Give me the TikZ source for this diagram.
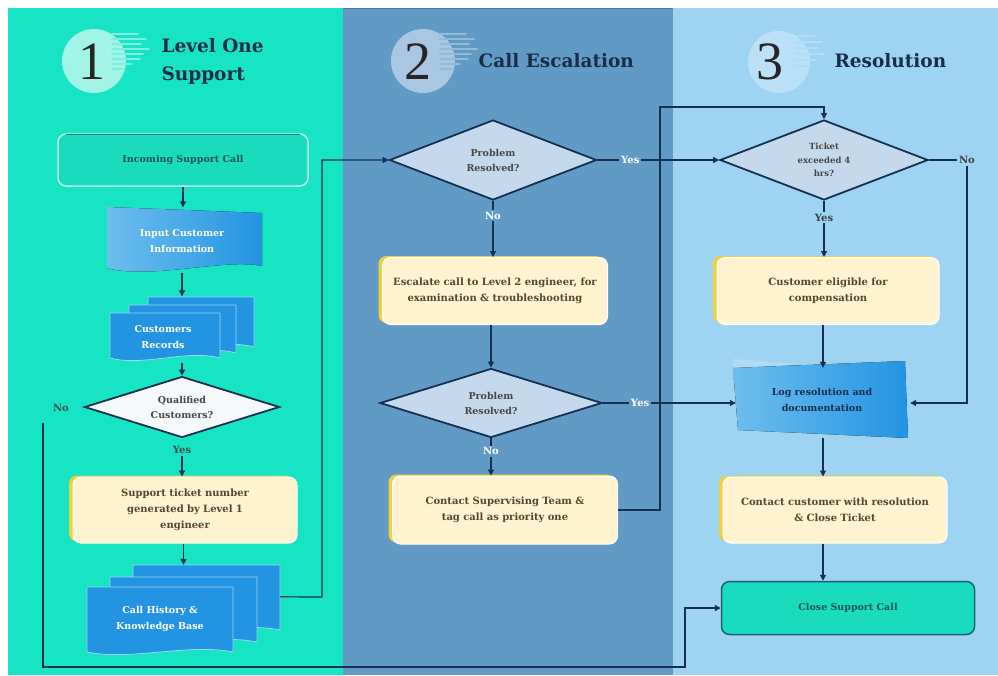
\documentclass[tikz,border=0pt]{standalone}
\usepackage{fontspec}
\setmainfont{DejaVu Serif}
\newfontfamily\numfont{Liberation Serif}
\usetikzlibrary{arrows.meta,shapes.geometric,shadows,calc}
\definecolor{colA}{RGB}{22,228,194}
\definecolor{colB}{RGB}{98,154,198}
\definecolor{colC}{RGB}{158,212,242}
\definecolor{navy}{RGB}{22,48,82}
\definecolor{cream}{RGB}{255,243,208}
\definecolor{gold}{RGB}{240,208,60}
\definecolor{docblue}{RGB}{35,148,225}
\definecolor{doclight}{RGB}{110,190,238}
\definecolor{docedge}{RGB}{150,215,250}
\definecolor{diafill}{RGB}{196,218,236}
\definecolor{boxtext}{RGB}{85,72,50}
\definecolor{termfill}{RGB}{26,220,188}
\definecolor{termtext}{RGB}{20,85,85}
\definecolor{titletext}{RGB}{25,45,70}
\newcommand\wavedoc[4]{%
  \filldraw[fill=docblue, draw=docedge, line width=0.8pt] (#1,#2) -- (#3,#2) -- (#3,#4)
   .. controls ({#3-0.3*(#3-#1)},{#4-9}) and ({#1+0.3*(#3-#1)},{#4+9}) .. (#1,#4) -- cycle;}
\begin{document}
\begin{tikzpicture}[x=1pt,y=-1pt,
  ybox/.style={rectangle, rounded corners=8pt, fill=cream, draw=white, line width=1pt,
    general shadow={fill=gold, shadow xshift=-4pt, shadow yshift=1.5pt},
    align=center, font=\fontsize{10}{16}\selectfont\bfseries, text=boxtext, inner sep=0pt},
  dia/.style={diamond, shape aspect=3.2, draw=navy, line width=1.8pt, fill=diafill, inner sep=0pt,
    align=center, font=\fontsize{9.5}{15}\selectfont\bfseries, text=black!72},
  term/.style={rectangle, rounded corners=8pt, fill=termfill, line width=1.5pt,
    align=center, font=\fontsize{9.5}{14}\selectfont\bfseries, text=termtext, inner sep=0pt},
  ghost/.style={rectangle, inner sep=0pt},
  doctext/.style={align=center, font=\fontsize{9.5}{16}\selectfont\bfseries, text=white},
  arr/.style={draw=navy, line width=1.2pt, -{Triangle[length=6pt,width=6pt]}},
  lab/.style={font=\fontsize{10}{11}\selectfont\bfseries, inner sep=2pt},
  ttl/.style={font=\fontsize{18.5}{28}\selectfont\bfseries, text=titletext, align=left, anchor=west},
  num/.style={font=\numfont\fontsize{54}{54}\selectfont, text=black!85},
  speed/.style={line width=1.6pt, line cap=round}
]
\useasboundingbox (0,0) rectangle (998,675);
\fill[white] (0,0) rectangle (998,675);
\fill[colA] (8,8) rectangle (343,675);
\fill[colB] (343,8) rectangle (673,675);
\fill[colC] (673,8) rectangle (998,675);
\draw[colB!80!black, line width=1pt] (343,8.5) -- (673,8.5);

% headers
\fill[white!60!colA] (94,61) circle (32);
\foreach \yy/\xl in {34/138,39/146,44/141,49/149,54/143,59/140,64/132,69/124}
  \draw[speed, white!45!colA] (112,\yy) -- (\xl,\yy);
\node[num] (n1) at (92,62) {1};
\node[ttl] (t1) at (158,61) {Level One\\Support};

\fill[white!45!colB] (423,61) circle (32);
\foreach \yy/\xl in {34/466,39/474,44/469,49/477,54/471,59/468,64/460,69/452}
  \draw[speed, white!32!colB] (440,\yy) -- (\xl,\yy);
\node[num] (n2) at (418,62) {2};
\node[ttl] (t2) at (475,61) {Call Escalation};

\fill[white!30!colC] (779,62) circle (31);
\foreach \yy/\xl in {36/815,42/822,48/818,54/824,60/816,66/810}
  \draw[speed, white!20!colC] (795,\yy) -- (\xl,\yy);
\node[num] (n3) at (770,62) {3};
\node[ttl] (t3) at (831,61) {Resolution};

% column 1
\node[term, draw=white!70!colA, minimum width=250pt, minimum height=52pt] (inc) at (183,160) {Incoming Support Call};
\draw[navy!60!colA, line width=1pt] (66,134.5) -- (300,134.5);

\fill[left color=doclight, right color=docblue] (107,207) -- (262,213) -- (262,266)
  .. controls (225,258) and (150,280) .. (107,268) -- cycle;
\node[ghost, minimum width=155pt, minimum height=65pt] (inp) at (183,240) {};
\node[doctext] (inpt) at (182,241) {Input Customer\\Information};

\wavedoc{148}{297}{254}{347}
\wavedoc{129}{305}{236}{353}
\wavedoc{110}{313}{220}{358}
\node[ghost, minimum width=144pt, minimum height=63pt] (recs) at (182,328) {};
\node[doctext] (recst) at (163,337) {Customers\\Records};

\node[dia, fill=white!85!diafill, minimum width=195pt, minimum height=61pt] (qual) at (182,407) {Qualified\\Customers?};

\node[ybox, minimum width=224pt, minimum height=66pt, text width=214pt] (ticket) at (185,510) {Support ticket number\\generated by Level 1\\engineer};

\wavedoc{133}{565}{280}{630}
\wavedoc{110}{577}{257}{642}
\wavedoc{87}{587}{233}{652}
\node[ghost, minimum width=193pt, minimum height=92pt] (hist) at (183.5,611) {};
\node[doctext] (histt) at (160,619) {Call History \&\\Knowledge Base};

% column 2
\node[dia, minimum width=207pt, minimum height=80pt] (d1) at (493,160) {Problem\\Resolved?};
\node[ybox, minimum width=225pt, minimum height=67pt, text width=222pt] (esc) at (495,291) {Escalate call to Level 2 engineer, for\\examination \& troubleshooting};
\node[dia, minimum width=222pt, minimum height=69pt] (d2) at (491,403) {Problem\\Resolved?};
\node[ybox, minimum width=225pt, minimum height=68pt, text width=215pt] (sup) at (505,510) {Contact Supervising Team \&\\tag call as priority one};

% column 3
\node[dia, minimum width=208pt, minimum height=80pt, font=\fontsize{8.5}{13.5}\selectfont\bfseries] (d3) at (824,160) {Ticket\\exceeded 4\\hrs?};
\node[ybox, minimum width=222pt, minimum height=67pt, text width=210pt] (cust) at (828,291) {Customer eligible for\\compensation};
\fill[left color=doclight, right color=docblue] (733,368) -- (905,361) -- (908,438) -- (738,430) -- cycle;
\fill[white, opacity=0.18] (733,359) -- (800,364) -- (733,368) -- cycle;
\node[ghost, minimum width=174pt, minimum height=70pt] (log) at (823,403) {};
\node[align=center, font=\fontsize{9.5}{16}\selectfont\bfseries, text=navy] (logt) at (822,400) {Log resolution and\\documentation};
\node[ybox, minimum width=224pt, minimum height=66pt, text width=222pt] (ccust) at (835,510) {Contact customer with resolution\\\& Close Ticket};
\node[term, draw=navy!70!termfill, minimum width=253pt, minimum height=53pt] (close) at (848,608) {Close Support Call};

% connectors column 1
\draw[arr] (inc.south -| inp.north) -- (inp.north);
\draw[arr] (inp.south -| recs.north) -- (recs.north);
\draw[arr] (recs.south -| qual.north) ++(0,3) -- (qual.north);
\node[lab, text=black!70] (no1) at (61,408) {No};
\draw[arr] (43,423) -- (43,667) -- (685,667) -- (685,608) -- (close.west);
\node[lab, text=black!70] (yes1) at (182,450) {Yes};
\draw[arr] (yes1.south) -- (yes1.south |- ticket.north);
\draw[arr] (ticket.south -| hist.north) -- (hist.north);
\draw[arr] ([yshift=-32pt]hist.north east) -- (322,597) -- (322,160) -- (d1.west);

% connectors column 2
\draw[arr] (d1.east) -- (d3.west) node[lab, pos=0.27, fill=colB, text=white] (yes2) {Yes};
\draw[arr] (d1.south) -- (d1.south |- esc.north) node[lab, pos=0.26, fill=colB, text=white] (no2) {No};
\draw[arr] (d2.north |- esc.south) -- (d2.north);
\draw[arr] (d2.east) -- (d2.east -| log.west) node[lab, pos=0.28, fill=colB, text=white] (yes3) {Yes};
\draw[arr] (d2.south) -- (d2.south |- sup.north) node[lab, pos=0.35, fill=colB, text=white] (no3) {No};
\draw[arr] (sup.east) -- (660,510) -- (660,107) -- (d3.north |- 660,107) -- (d3.north);

% connectors column 3
\draw[arr] (d3.east) -- (967,160) -- (967,403) -- (log.east);
\node[lab, fill=colC, text=black!75] (no4) at (967,160) {No};
\draw[arr] (d3.south) -- (d3.south |- cust.north) node[lab, pos=0.3, fill=colC, text=black!75] (yes4) {Yes};
\draw[arr] (log.north |- cust.south) -- (log.north);
\draw[arr] (log.south) -- (log.south |- ccust.north);
\draw[arr] (log.south |- ccust.south) -- (log.south |- close.north);
\end{tikzpicture}
\end{document}
